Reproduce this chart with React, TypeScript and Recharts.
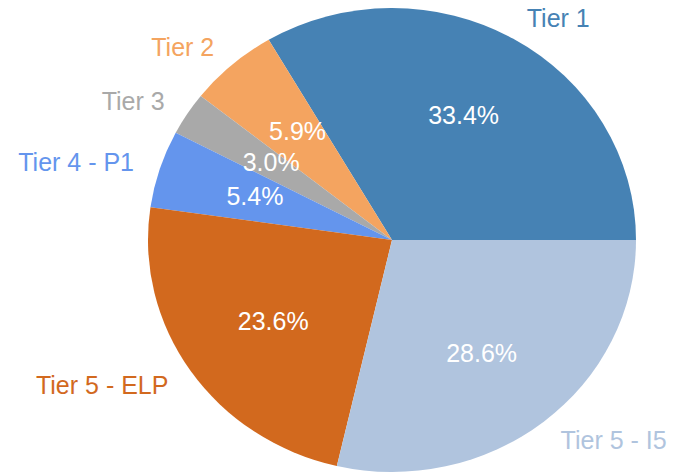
import { PieChart, Pie, Cell, Sector } from 'recharts';

const tiers = ['Tier 1', 'Tier 2', 'Tier 3', 'Tier 4 - P1', 'Tier 5 - ELP', 'Tier 5 - I5'];
const shares = [33.4, 5.9, 3.0, 5.4, 23.6, 28.6];
const colors = ['#4682B4', '#F4A460', '#A9A9A9', '#6495ED', '#D2691E', '#B0C4DE'];

const data = tiers.map((name, i) => ({ name, value: shares[i] }));

const RADIAN = Math.PI / 180;
const RX = 244;
const RY = 232;
const FONT = '"Liberation Sans", Arial, Helvetica, sans-serif';

// the reference pie is slightly squashed vertically
function EllipseSector(props: any) {
  const { cx, cy } = props;
  return (
    <g transform={`translate(${cx} ${cy}) scale(1 ${RY / RX}) translate(${-cx} ${-cy})`}>
      <Sector {...props} />
    </g>
  );
}

function renderLabel(props: any) {
  const { cx, cy, midAngle, index, value } = props;
  const cos = Math.cos(-midAngle * RADIAN);
  const sin = Math.sin(-midAngle * RADIAN);
  const inR = 144;
  const ix = cx + inR * cos;
  const iy = cy + inR * sin;
  const ox = cx + 271 * cos;
  const oy = cy + 256 * sin;
  return (
    <g>
      <text
        x={ix}
        y={iy}
        fill="#ffffff"
        textAnchor="middle"
        dominantBaseline="central"
        fontSize={25}
        fontFamily={FONT}
      >
        {`${Number(value).toFixed(1)}%`}
      </text>
      <text
        x={ox}
        y={oy}
        fill={colors[index]}
        textAnchor={cos >= 0 ? 'start' : 'end'}
        dominantBaseline="central"
        fontSize={25}
        fontFamily={FONT}
      >
        {tiers[index]}
      </text>
    </g>
  );
}

export default function App() {
  return (
    <div style={{ position: 'absolute', left: 0, top: 0, width: 688, height: 472, background: '#ffffff' }}>
      <PieChart width={688} height={472} margin={{ top: 0, right: 0, bottom: 0, left: 0 }}>
        <Pie
          data={data}
          dataKey="value"
          nameKey="name"
          cx={392}
          cy={240}
          outerRadius={RX}
          startAngle={0}
          endAngle={360}
          stroke="none"
          labelLine={false}
          label={renderLabel}
          shape={EllipseSector}
          isAnimationActive={false}
        >
          {data.map((d, i) => (
            <Cell key={d.name} fill={colors[i]} />
          ))}
        </Pie>
      </PieChart>
    </div>
  );
}
